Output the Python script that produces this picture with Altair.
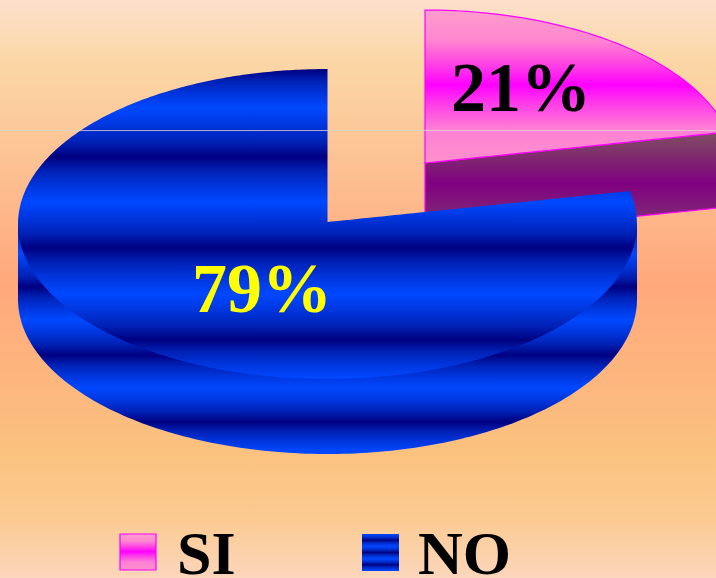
import numpy as np
import pandas as pd
import altair as alt

# Values and labels
labels = ["SI", "NO"]
shares = [21, 79]
label_colors = ["#000000", "#FFFF00"]

W, H = 716, 578
RX, RY, DEPTH = 309.5, 155, 75
TILT = 2.1  # perspective shift of the slice boundary, in degrees
PINK_C = (425, 165)
BLUE_C = (327.5, 224)
APEX_RISE = 2

boundary = np.radians(shares[0] / 100 * 360 + TILT)


def grad(stops, y0=0.0, y1=1.0):
    """Vertical gradient from (pixel y, colour) pairs, spread over a mark's box."""
    return alt.Gradient(
        gradient="linear", x1=0, x2=0, y1=0, y2=1,
        stops=[alt.GradientStop(offset=float(np.clip((y - y0) / (y1 - y0), 0, 1)), color=c)
               for y, c in stops],
    )


BRIGHT, NAVY = "#0048FF", "#000080"
MID_DARK, MID_LIGHT = "#0020B4", "#0036DE"


def bands(ys, first_is_dark):
    """Alternating navy and bright stripes; the ramp leaves the navy quickly."""
    out = []
    dark = first_is_dark
    for a, b in zip(ys[:-1], ys[1:]):
        out.append((a, NAVY if dark else BRIGHT))
        near_dark, near_bright = (a, b) if dark else (b, a)
        first = near_dark + (near_bright - near_dark) * 0.3
        second = near_dark + (near_bright - near_dark) * 0.65
        pair = [(first, MID_DARK), (second, MID_LIGHT)]
        out.extend(pair if dark else pair[::-1])
        dark = not dark
    out.append((ys[-1], NAVY if dark else BRIGHT))
    return out


def pink_bands(y0, y1):
    """Light pink at both ends with a narrow magenta stripe in the middle."""
    ramp = [(0, "#FF9ECC"), (0.2, "#FF85D0"), (0.36, "#FF40E5"), (0.49, "#FF00FF"),
            (0.62, "#FF40E8"), (0.78, "#FF80D5"), (1, "#FF90CC")]
    return [(y0 + (y1 - y0) * o, c) for o, c in ramp]


bg_fill = grad([(0, "#FDE0CC"), (60, "#FBD7A6"), (285, "#FFA87C"), (455, "#FBC27F"),
                (520, "#FBCB92"), (578, "#FCD6BC")], 0, 578)
pink_fill = grad(pink_bands(10, 165), 10, 165)
pink_side_fill = grad([(133, "#7F5060"), (185, "#800080"), (240, "#804070")], 133, 240)
blue_fill = grad(bands([69, 108, 157, 202, 248, 294, 340, 378], True), 69, 379)
blue_side_fill = grad(bands([224, 253, 287, 320, 355, 388, 422, 452], True), 224, 454)
legend_pink = grad(pink_bands(0, 1))
legend_blue = grad(bands([0, 0.17, 0.33, 0.5, 0.67, 0.83, 1], False))

X = alt.X("x:Q", scale=alt.Scale(domain=[0, W]), axis=None)
Y = alt.Y("y:Q", scale=alt.Scale(domain=[H, 0]), axis=None)


def area_layer(df, fill, **mark):
    return alt.Chart(df).mark_area(
        fill=fill, clip=True, orient="vertical", **mark
    ).encode(x=X, y=Y, y2="y2:Q")


def rect_layer(x0, x1, y0, y1, fill, **mark):
    df = pd.DataFrame({"x": [x0], "x2": [x1], "y": [y0], "y2": [y1]})
    return alt.Chart(df).mark_rect(fill=fill, **mark).encode(x=X, x2="x2:Q", y=Y, y2="y2:Q")


def text_layer(txt, x, y, size, color):
    df = pd.DataFrame({"x": [x], "y": [y], "t": [txt]})
    return alt.Chart(df).mark_text(
        align="left", baseline="alphabetic", font="Liberation Serif", fontWeight="bold",
        fontSize=size, color=color,
    ).encode(x=X, y=Y, text="t:N")


def rim(center, t):
    return center[0] + RX * np.sin(t), center[1] - RY * np.cos(t)


# SI slice: from straight up, clockwise to the boundary angle
cx, cy = PINK_C
t = np.linspace(0, boundary, 60)
px, py = rim(PINK_C, t)
end_x, end_y = px[-1], py[-1]
apex_y = cy - APEX_RISE
slope = (end_y - apex_y) / (end_x - cx)
edge = apex_y + (px - cx) * slope
pink_top = pd.DataFrame({"x": px, "y": py, "y2": edge})
pink_side = pd.DataFrame({"x": px, "y": edge, "y2": edge + DEPTH})

# NO slice: the remaining sweep, split in a lower rim and an upper edge
cx, cy = BLUE_C
t = np.linspace(boundary, 2 * np.pi, 240)
xs = np.sort(cx + RX * np.sin(t))
half = RY * np.sqrt(np.clip(1 - ((xs - cx) / RX) ** 2, 0, 1))
lower = cy + half
upper = cy - half
tip_x = cx + RX * np.sin(boundary)
tip_y = cy - RY * np.cos(boundary)
apex_y = cy - APEX_RISE
b_slope = (tip_y - apex_y) / (tip_x - cx)
wedge = (xs > cx) & (xs <= tip_x)
upper[wedge] = apex_y + (xs[wedge] - cx) * b_slope

# rim points on both sides of the notch, then the right end of the rim
extra_x = np.linspace(tip_x + 0.01, cx + RX, 16)
extra_half = RY * np.sqrt(np.clip(1 - ((extra_x - cx) / RX) ** 2, 0, 1))
left_mask = xs <= cx
xa = np.concatenate([xs[left_mask], [cx + 0.01], xs[wedge], extra_x])
lo = np.concatenate([lower[left_mask], [cy + RY], lower[wedge], cy + extra_half])
up = np.concatenate([upper[left_mask], [apex_y], upper[wedge], cy - extra_half])
blue_top = pd.DataFrame({"x": xa, "y": up, "y2": lo})

sx = cx + RX * np.sin(np.linspace(-np.pi / 2, np.pi / 2, 160))
s_half = RY * np.sqrt(np.clip(1 - ((sx - cx) / RX) ** 2, 0, 1))
blue_side = pd.DataFrame({"x": sx, "y": np.full(len(sx), cy), "y2": cy + s_half + DEPTH})

hairline = alt.Chart(pd.DataFrame({"y": [130.5]})).mark_rule(
    color="#DDD8D0", opacity=0.75, strokeWidth=1
).encode(y=Y, x=alt.value(0), x2=alt.value(W))

chart = alt.layer(
    rect_layer(0, W, 0, H, bg_fill),
    area_layer(pink_side, pink_side_fill, stroke="#FF00FF", strokeWidth=1.2),
    area_layer(pink_top, pink_fill, stroke="#FF00FF", strokeWidth=1.2),
    area_layer(blue_side, blue_side_fill),
    area_layer(blue_top, blue_fill),
    hairline,
    text_layer(f"{shares[0]}%", 451, 111, 70, label_colors[0]),
    text_layer(f"{shares[1]}%", 192, 312, 70, label_colors[1]),
    rect_layer(120, 156, 534, 570, legend_pink, stroke="#FF00FF", strokeWidth=1.2),
    text_layer(labels[0], 177, 574, 62, "#000000"),
    rect_layer(362, 399, 534, 571, legend_blue),
    text_layer(labels[1], 418, 574, 62, "#000000"),
).properties(
    width=W, height=H, padding=0, autosize=alt.AutoSizeParams(type="none")
).configure_view(strokeWidth=0)

chart.save("out.html", embed_options={"renderer": "svg", "actions": False})
